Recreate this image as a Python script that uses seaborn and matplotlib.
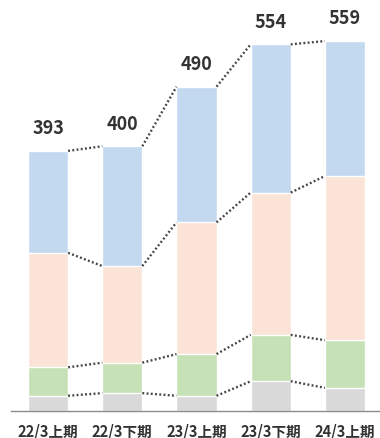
import numpy as np
import pandas as pd
import matplotlib
matplotlib.use('Agg')
import matplotlib.pyplot as plt
import seaborn as sns

# データ
periods = ['22/3上期', '22/3下期', '23/3上期', '23/3下期', '24/3上期']
totals = [393, 400, 490, 554, 559]
gray_vals = [23, 27, 23, 45, 35]
green_vals = [43, 46, 63, 70, 72]
peach_vals = [173, 146, 199, 215, 248]
blue_vals = [154, 181, 205, 224, 204]

sns.set_style('white')
plt.rcParams['font.family'] = ['Noto Sans CJK JP', 'DejaVu Sans']

df = pd.DataFrame({
    'period': periods,
    'gray': gray_vals,
    'green': green_vals,
    'peach': peach_vals,
    'blue': blue_vals,
})
# 積み上げ用の累積値
df['c_gray'] = df['gray']
df['c_green'] = df['c_gray'] + df['green']
df['c_peach'] = df['c_green'] + df['peach']
df['c_blue'] = df['c_peach'] + df['blue']

colors = {'c_blue': '#c3d9ef', 'c_peach': '#fbe4d7', 'c_green': '#c6e1b6', 'c_gray': '#d9d9d9'}
bar_w = 0.54

fig = plt.figure(figsize=(3.8, 4.38), dpi=100)
ax = fig.add_axes([11 / 380, 27 / 438, 371 / 380, 411 / 438])

# 大きい順に重ねて描画
for col in ['c_blue', 'c_peach', 'c_green', 'c_gray']:
    sns.barplot(data=df, x='period', y=col, color=colors[col], saturation=1,
                width=bar_w, ax=ax, errorbar=None)

# 点線のコネクタ
for col in ['c_blue', 'c_peach', 'c_green', 'c_gray']:
    vals = df[col].values
    for i in range(len(vals) - 1):
        ax.plot([i + bar_w / 2, i + 1 - bar_w / 2], [vals[i], vals[i + 1]],
                color='#454545', lw=1.7, linestyle=(0, (0.8, 1.0)),
                solid_capstyle='butt', dash_capstyle='butt')

# 合計ラベル
for i, t in enumerate(totals):
    ax.text(i, t + 19, str(t), ha='center', va='bottom', fontsize=13,
            fontweight='bold', color='#333333')

ax.set_xlim(-0.5, 4.5)
ax.set_ylim(0, 621)
ax.set_xlabel('')
ax.set_ylabel('')
ax.set_yticks([])
for s in ['top', 'right', 'left']:
    ax.spines[s].set_visible(False)
ax.spines['bottom'].set_color('#8c8c8c')
ax.spines['bottom'].set_linewidth(1.0)

ax.set_xticks(range(len(periods)))
ax.set_xticklabels(periods, fontsize=10.5, fontweight='bold', color='#333333')
ax.tick_params(axis='x', which='major', length=0, pad=9)
ax.set_xticks(np.arange(-0.5, 4.6, 1.0), minor=True)
ax.tick_params(axis='x', which='minor', direction='in', length=3,
               color='#8c8c8c', width=1.0)

fig.savefig('out.png', dpi=100)
plt.close(fig)
